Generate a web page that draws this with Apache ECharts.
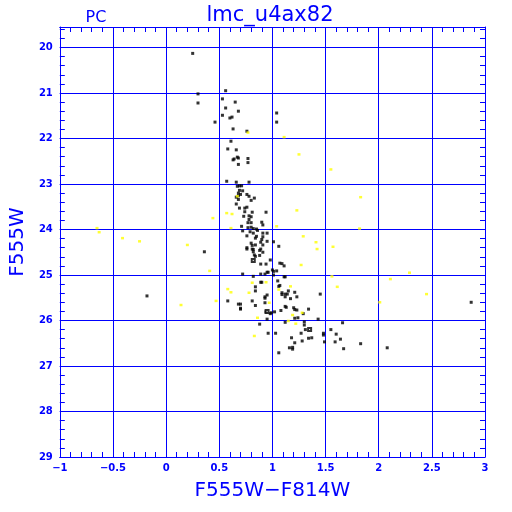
<!DOCTYPE html>
<html>
<head>
<meta charset="utf-8">
<script src="https://cdn.jsdelivr.net/npm/echarts@6/dist/echarts.min.js"></script>
<style>html,body{margin:0;padding:0;background:#fff;}#c{width:512px;height:512px;}</style>
</head>
<body>
<div id="c"></div>
<script>
var titleText = 'lmc_u4ax82';
var cornerText = 'PC';
var xName = 'F555W\u2212F814W';
var yName = 'F555W';
var xTicks = [-1, -0.5, 0, 0.5, 1, 1.5, 2, 2.5, 3];
var yTicks = [20, 21, 22, 23, 24, 25, 26, 27, 28, 29];

var blackX = [0.25,0.30,0.30,0.56,0.53,0.65,0.56,0.68,0.53,0.62,0.60,0.46,1.04,1.04,0.63,0.76,0.61,0.58,0.66,0.63,0.64,0.67,0.68,0.77,0.77,0.68,
0.57,0.66,0.78,0.67,0.69,0.71,0.69,0.72,0.68,0.70,0.68,0.66,0.76,0.78,0.83,0.68,0.80,0.66,0.76,0.74,0.69,0.94,0.81,0.74,0.73,0.78,0.80,0.78,0.77,0.80,0.90,0.91,0.71,0.77,0.80,0.82,0.85,0.86,0.72,0.79,0.82,0.91,0.95,0.76,0.85,0.84,0.91,0.90,0.95,1.01,0.89,0.80,0.84,0.81,0.91,1.06,0.76,0.76,0.81,0.82,0.88,0.89,0.82,0.91,0.36,0.83,0.84,0.88,0.98,1.07,1.09,1.11,0.89,0.94,1.00,1.01,1.04,0.95,0.96,0.72,0.89,0.93,0.82,1.01,1.11,1.12,1.05,0.89,0.90,0.84,1.07,1.06,0.84,1.09,1.09,1.12,1.14,1.15,1.21,1.12,0.95,0.93,0.93,1.23,1.17,1.45,0.58,0.81,0.93,0.68,0.70,0.84,0.70,0.70,1.12,1.13,1.20,1.21,1.34,1.23,
1.08,1.02,0.98,0.99,0.94,1.29,1.21,1.24,0.95,1.12,1.30,1.30,1.43,1.66,0.88,1.31,1.48,1.48,1.55,0.96,1.03,1.27,1.60,1.18,1.34,1.37,1.64,1.28,1.21,1.49,1.59,1.83,2.08,1.16,1.19,1.19,1.67,1.06,
-0.18,2.87];
var blackY = [20.13,21.02,21.22,20.95,21.13,21.20,21.33,21.40,21.49,21.53,21.55,21.64,21.44,21.64,21.79,21.84,22.06,22.23,22.25,22.47,22.45,22.41,22.43,22.44,22.53,22.57,
22.94,22.96,22.96,23.05,23.04,23.04,23.14,23.15,23.20,23.23,23.26,23.29,23.23,23.27,23.31,23.34,23.36,23.44,23.51,23.53,23.53,23.62,23.62,23.61,23.71,23.70,23.72,23.78,23.85,23.85,23.84,23.90,23.93,23.96,23.95,23.98,23.99,24.02,24.03,24.05,24.08,24.08,24.08,24.14,24.15,24.19,24.16,24.22,24.26,24.27,24.28,24.30,24.34,24.35,24.34,24.37,24.40,24.43,24.43,24.44,24.46,24.43,24.49,24.50,24.49,24.56,24.59,24.57,24.67,24.74,24.75,24.80,24.76,24.76,24.89,24.92,24.91,24.94,24.94,24.98,24.98,24.98,25.03,25.00,25.04,25.04,25.13,25.16,25.16,25.26,25.23,25.25,25.35,25.39,25.43,25.42,25.42,25.35,25.38,25.48,25.44,25.48,25.51,25.48,25.52,25.42,25.57,25.57,25.61,25.64,25.64,25.67,25.73,25.75,25.69,25.71,25.72,25.76,25.75,25.77,
25.78,25.81,25.85,25.83,25.81,25.85,25.95,25.94,25.97,26.04,26.03,26.10,25.97,26.05,26.08,26.20,26.28,26.32,26.20,26.28,26.28,26.28,26.30,26.38,26.39,26.38,26.41,26.45,26.49,26.47,26.47,26.51,26.60,26.60,26.59,26.63,26.62,26.71,
25.46,25.60];

var hollowX = [0.82, 0.95, 1.35];
var hollowY = [24.68, 25.80, 26.20];

var yellowX = [0.77,1.11,1.25,1.55,0.67,0.57,0.62,1.23,0.44,1.04,0.61,1.29,1.41,1.42,1.57,0.20,1.27,0.41,1.56,1.61,1.17,0.81,0.94,1.06,0.58,0.61,0.78,0.47,0.14,0.97,0.86,1.22,1.15,1.19,1.28,0.83,2.11,2.01,-0.65,-0.63,-0.41,-0.25,1.83,1.82,2.29,2.45];
var yellowY = [21.87,21.97,22.35,22.68,23.27,23.64,23.66,23.58,23.75,23.93,23.97,24.15,24.28,24.43,24.38,24.34,24.78,24.91,25.03,25.26,25.25,25.17,25.16,25.32,25.31,25.38,25.39,25.57,25.66,25.61,25.94,26.07,26.01,25.88,25.83,26.34,25.09,25.60,23.97,24.06,24.19,24.26,23.29,23.98,24.95,25.42];

function zip(a, b) { return a.map(function (v, i) { return [v, b[i]]; }); }

var BLUE = '#0000ff';
var chart = echarts.init(document.getElementById('c'), null, { renderer: 'canvas' });

function xAxisDef(pos, showLabels) {
  return {
    type: 'value', position: pos, min: xTicks[0], max: xTicks[xTicks.length - 1], interval: 0.5,
    axisLine: { show: true, onZero: false, lineStyle: { color: BLUE, width: 1 } },
    axisTick: { show: true, inside: true, length: 12, lineStyle: { color: BLUE, width: 1 } },
    minorTick: { show: true, splitNumber: 5, length: 5, lineStyle: { color: BLUE, width: 1 } },
    splitLine: { show: showLabels, lineStyle: { color: BLUE, width: 1 } },
    axisLabel: { show: showLabels, color: BLUE, fontFamily: 'DejaVu Sans', fontWeight: 'bold', fontSize: 10, margin: 6,
      formatter: function (v) { return String(v).replace('-', '\u2212'); } },
    name: showLabels ? xName : '', nameLocation: 'middle', nameGap: 24,
    nameTextStyle: { color: BLUE, fontFamily: 'DejaVu Sans', fontSize: 20 }
  };
}
function yAxisDef(pos, showLabels) {
  return {
    type: 'value', position: pos, inverse: true, min: 19.55, max: yTicks[yTicks.length - 1], splitNumber: 9,
    axisLine: { show: true, onZero: false, lineStyle: { color: BLUE, width: 1 } },
    axisTick: { show: true, inside: true, length: 6, lineStyle: { color: BLUE, width: 1 } },
    minorTick: { show: true, splitNumber: 5, length: 5, lineStyle: { color: BLUE, width: 1 } },
    splitLine: { show: showLabels, lineStyle: { color: BLUE, width: 1 } },
    axisLabel: { show: showLabels, color: BLUE, fontFamily: 'DejaVu Sans', fontWeight: 'bold', fontSize: 10, margin: 7,
      showMinLabel: false,
      formatter: function (v) { return yTicks.indexOf(Math.round(v * 100) / 100) >= 0 ? String(v) : ''; } },
    name: showLabels ? yName : '', nameLocation: 'middle', nameGap: 30, nameRotate: 90,
    nameTextStyle: { color: BLUE, fontFamily: 'DejaVu Sans', fontSize: 20 }
  };
}

chart.setOption({
  animation: false,
  backgroundColor: '#ffffff',
  grid: { left: 55, right: 27, top: 27, bottom: 55, containLabel: false },
  xAxis: [xAxisDef('bottom', true), xAxisDef('top', false)],
  yAxis: [yAxisDef('left', true), yAxisDef('right', false)],
  graphic: [
    { type: 'text', x: 270, y: 5, style: { text: titleText, fill: BLUE, font: '21px "DejaVu Sans"', textAlign: 'center' } },
    { type: 'text', x: 96, y: 10, style: { text: cornerText, fill: BLUE, font: '16px "DejaVu Sans"', textAlign: 'center' } }
  ],
  series: [
    { name: 'black', type: 'scatter', xAxisIndex: 0, yAxisIndex: 0, symbol: 'rect', symbolSize: 3,
      itemStyle: { color: '#000000' }, data: zip(blackX, blackY) },
    { name: 'hollow', type: 'scatter', xAxisIndex: 0, yAxisIndex: 0, symbol: 'emptyRect', symbolSize: 3,
      itemStyle: { color: '#000000', borderColor: '#000000', borderWidth: 1 }, data: zip(hollowX, hollowY) },
    { name: 'yellow', type: 'scatter', xAxisIndex: 0, yAxisIndex: 0, symbol: 'rect', symbolSize: [3, 2.5],
      itemStyle: { color: '#ffff00' }, data: zip(yellowX, yellowY) }
  ]
});
</script>
</body>
</html>
